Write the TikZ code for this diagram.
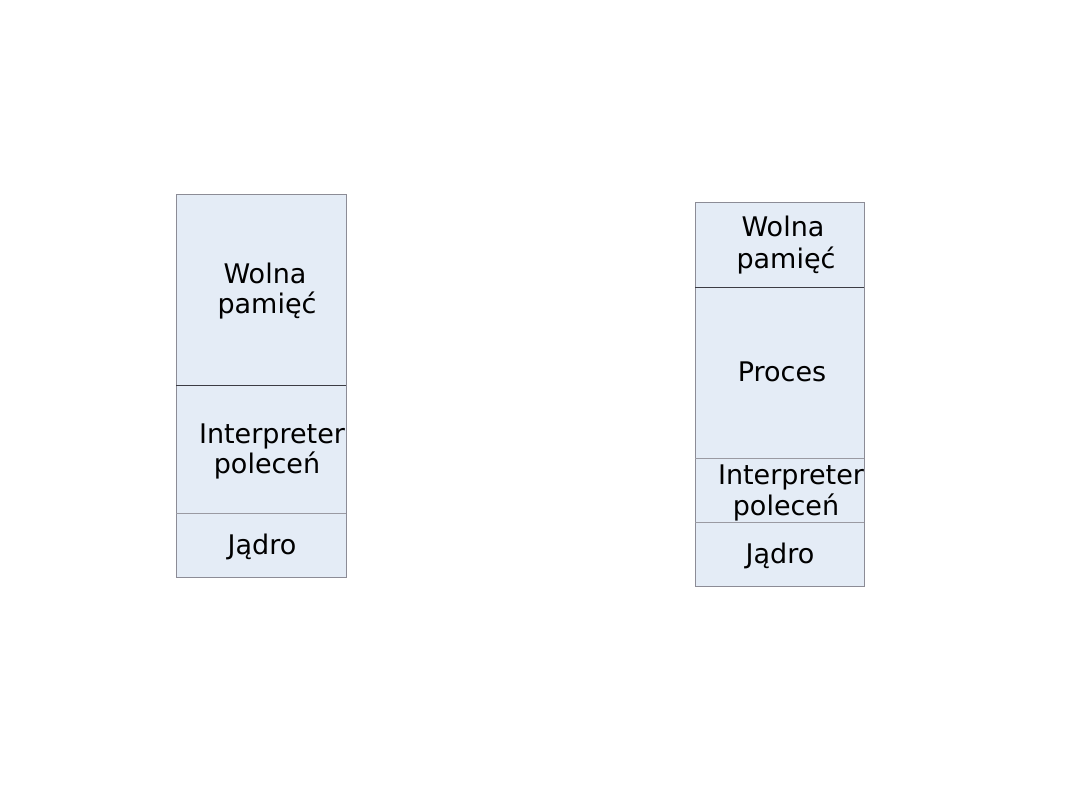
\documentclass[tikz,border=0pt]{standalone}
\usepackage{fontspec}
\setmainfont{DejaVu Sans}
\definecolor{cellfill}{HTML}{E4ECF6}
\definecolor{frame}{HTML}{8C8C96}
\definecolor{darkdiv}{HTML}{3C3C44}
\definecolor{lightdiv}{HTML}{9A9AA2}
\begin{document}
\begin{tikzpicture}[x=1pt,y=-1pt,
  lbl/.style={anchor=base,inner sep=0pt,font=\fontsize{27}{32}\selectfont,text=black},
  col/.style={fill=cellfill,draw=frame,line width=0.9pt},
  ddiv/.style={draw=darkdiv,line width=0.8pt},
  ldiv/.style={draw=lightdiv,line width=0.8pt}]
\useasboundingbox (0,0) rectangle (1080,810);
% left column
\path[col] (176,194) rectangle (346,577);
\draw[ddiv] (176,385) -- (346,385);
\draw[ldiv] (176,513) -- (346,513);
\node[lbl] (l1) at (265,284) {Wolna};
\node[lbl] (l2) at (267,314) {pamięć};
\node[lbl] (l3) at (272,443) {Interpreter};
\node[lbl] (l4) at (267,474) {poleceń};
\node[lbl] (l5) at (262,554) {Jądro};
% right column
\path[col] (695,202) rectangle (864,586);
\draw[ddiv] (695,287) -- (864,287);
\draw[ldiv] (695,458) -- (864,458);
\draw[ldiv] (695,522) -- (864,522);
\node[lbl] (r1) at (783,237) {Wolna};
\node[lbl] (r2) at (786,269) {pamięć};
\node[lbl] (r3) at (782,382) {Proces};
\node[lbl] (r4) at (791,484) {Interpreter};
\node[lbl] (r5) at (786,515) {poleceń};
\node[lbl] (r6) at (780,563) {Jądro};
\end{tikzpicture}
\end{document}
